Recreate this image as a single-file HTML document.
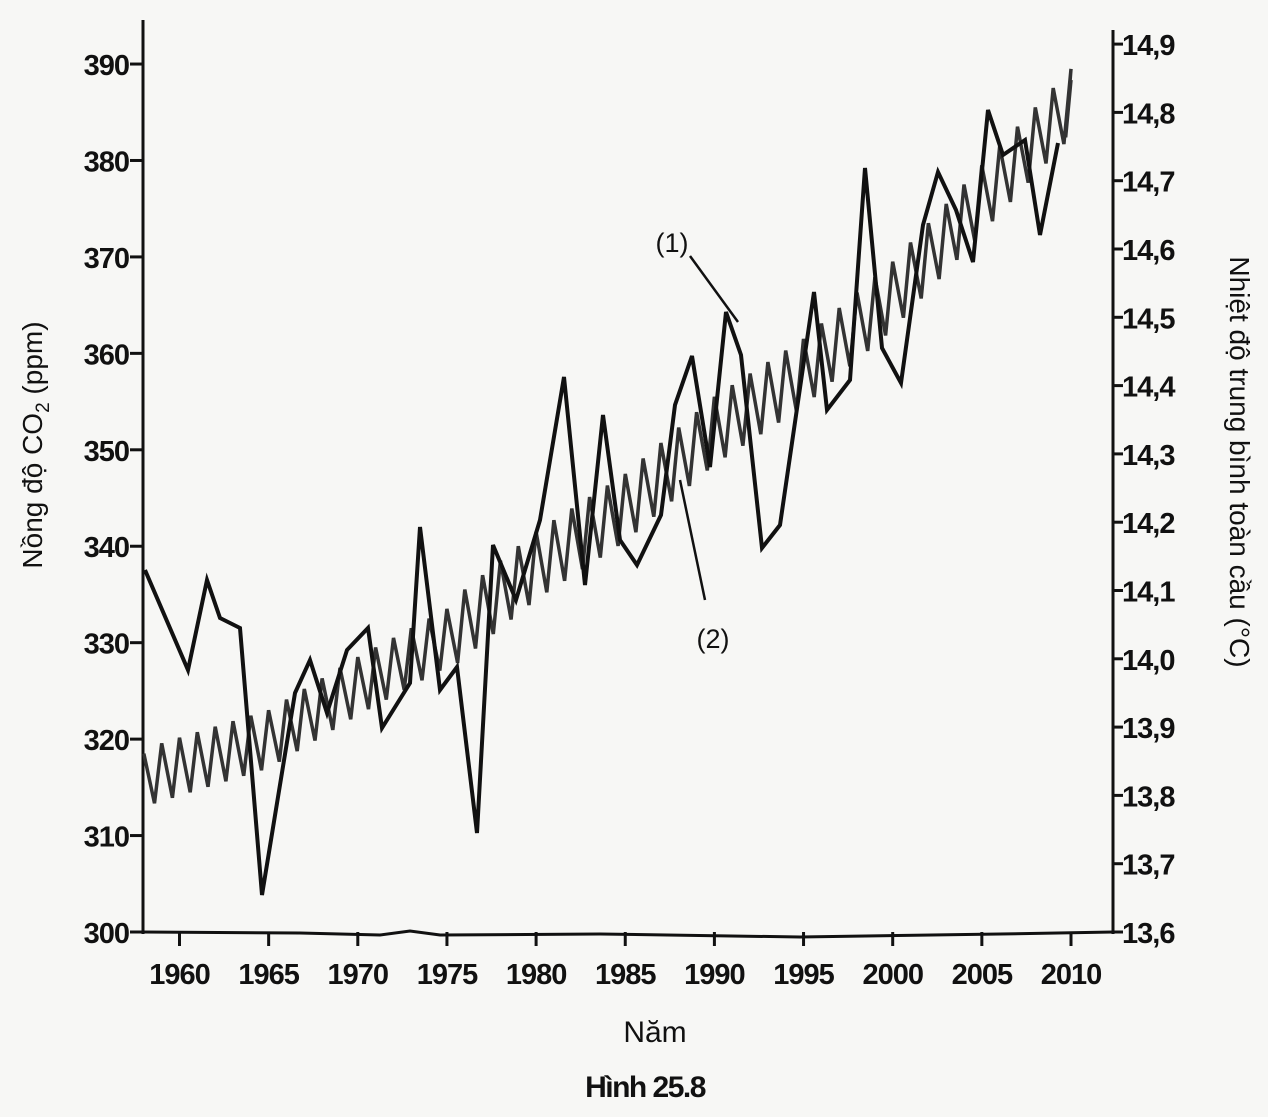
<!DOCTYPE html>
<html><head><meta charset="utf-8"><style>
html,body{margin:0;padding:0;background:#f7f7f5;}
svg{display:block;font-family:"Liberation Sans",sans-serif;}
</style></head><body>
<svg id="s" width="1268" height="1117" viewBox="0 0 1268 1117" xmlns="http://www.w3.org/2000/svg">
<rect width="1268" height="1117" fill="#f7f7f5"/>
<g stroke="#111" stroke-width="3" fill="none">
<line x1="143" y1="20" x2="143" y2="934"/>
<line x1="1113" y1="30" x2="1113" y2="934"/>
<path d="M143 932 L300 933 L380 935 L410 931 L440 935 L600 934 L800 937 L1000 934 L1113 932"/>
</g>
<g id="lt" stroke="#111" stroke-width="3"></g>
<g id="rt" stroke="#111" stroke-width="3"></g>
<g id="bt" stroke="#111" stroke-width="3"></g>
<g id="ll" font-size="29" font-weight="bold" letter-spacing="-1" fill="#111" text-anchor="end"></g>
<g id="rl" font-size="29" font-weight="bold" letter-spacing="-1" fill="#111"></g>
<g id="bl" font-size="29" font-weight="bold" letter-spacing="-1" fill="#111" text-anchor="middle"></g>
<path id="co2" fill="none" stroke="#333" stroke-width="3.5" stroke-linejoin="miter"/>
<path id="tmp" fill="none" stroke="#111" stroke-width="4" stroke-linejoin="miter"/>
<g stroke="#111" stroke-width="2.5">
<line x1="690" y1="256" x2="738" y2="322"/>
<line x1="705" y1="600" x2="680" y2="480"/>
</g>
<text x="672" y="252" font-size="27" fill="#111" text-anchor="middle">(1)</text>
<text x="713" y="648" font-size="27" fill="#111" text-anchor="middle">(2)</text>
<text x="655" y="1042" font-size="30" fill="#111" text-anchor="middle">Năm</text>
<text x="645" y="1097" font-size="30" font-weight="bold" letter-spacing="-1.5" fill="#111" text-anchor="middle">Hình 25.8</text>
<text transform="translate(42,445) rotate(-90)" font-size="28" fill="#111" text-anchor="middle">Nồng độ CO<tspan font-size="19" dy="7">2</tspan><tspan dy="-7"> (ppm)</tspan></text>
<text transform="translate(1230,462) rotate(90)" font-size="28" fill="#111" text-anchor="middle">Nhiệt độ trung bình toàn cầu (°C)</text>
</svg>
<script>
var NS="http://www.w3.org/2000/svg";
function el(p,t,a,txt){var e=document.createElementNS(NS,t);for(var k in a)e.setAttribute(k,a[k]);if(txt)e.textContent=txt;document.getElementById(p).appendChild(e);}
function X(y){return 179.5+(y-1960)*17.83;}
function YC(v){return 932-(v-300)*9.644;}
function YT(t){return 932-(t-13.6)*683;}
for(var v=300;v<=390;v+=10){var y=YC(v);el("lt","line",{x1:130,y1:y,x2:143,y2:y});el("ll","text",{x:129,y:y+11},""+v);}
for(var i=0;i<=13;i++){var t=13.6+i*0.1;var y=YT(t);el("rt","line",{x1:1113,y1:y,x2:1123,y2:y});el("rl","text",{x:1122,y:y+11},t.toFixed(1).replace(".",","));}
for(var yr=1960;yr<=2010;yr+=5){var x=X(yr);el("bt","line",{x1:x,y1:932,x2:x,y2:946});el("bl","text",{x:x,y:984},""+yr);}
var kp=[[1958,316],[1965,320],[1970,325.5],[1975,330.5],[1980,338],[1985,344],[1990,352],[1995,358],[2000,366],[2005,376],[2010,386]];
function tr(y){for(var i=0;i<kp.length-1;i++){if(y<=kp[i+1][0]){var a=kp[i],b=kp[i+1];return a[1]+(b[1]-a[1])*(y-a[0])/(b[0]-a[0]);}}return kp[kp.length-1][1];}
var d="M"+X(1958)+" "+YC(tr(1958)+2.5);
for(var yr=1958;yr<2010;yr++){var a=yr<1975?3:3.5;d+=" L"+X(yr+0.6).toFixed(1)+" "+YC(tr(yr+0.6)-a).toFixed(1);d+=" L"+X(yr+1).toFixed(1)+" "+YC(tr(yr+1)+a).toFixed(1);}
d+=" L"+X(2009.7)+" "+YC(tr(2009.7)-3);d+=" L"+X(2010.0)+" 80";
document.getElementById("co2").setAttribute("d",d);
var tp=[[145,570],[188,670],[207,580],[220,618],[240,628],[262,895],[295,693],[310,660],[327,713],[347,650],[368,628],[382,728],[410,683],[420,527],[440,690],[457,667],[477,833],[493,545],[516,600],[540,520],[564,377],[585,585],[603,415],[620,540],[637,565],[661,515],[675,405],[692,356],[710,467],[726,312],[741,355],[762,548],[780,525],[814,292],[827,410],[850,380],[865,168],[882,348],[901,383],[923,225],[938,172],[956,210],[973,262],[988,110],[1003,155],[1025,140],[1040,235],[1058,143]];
document.getElementById("tmp").setAttribute("d","M"+tp.map(function(p){return p[0]+" "+p[1];}).join(" L"));
</script>
</body></html>
